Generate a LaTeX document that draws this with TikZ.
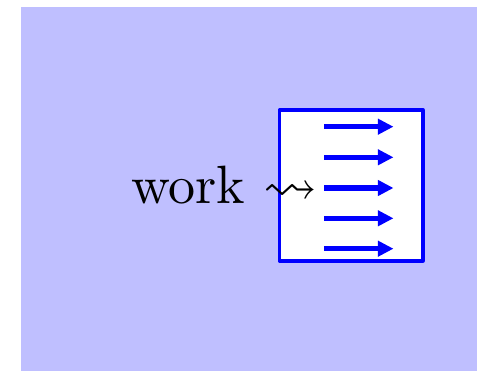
\documentclass[tikz,border=0pt]{standalone}
\usepackage{amssymb}
\usetikzlibrary{arrows.meta}
\tikzset{
  panel/.style={fill=blue!25, draw=none},
  screen/.style={draw=blue, fill=white, line width=0.61pt, line join=round,
    minimum width=26.6pt, minimum height=27.96pt, inner sep=0pt},
  flow/.style={draw=blue, line width=0.98pt,
    -{Triangle[length=2.9pt,width=2.8pt]}},
  label/.style={inner sep=0pt, anchor=base west}
}
\begin{document}
\begin{tikzpicture}[x=0.1852pt, y=-0.1852pt]
  \useasboundingbox (0,0) rectangle (477,371);
  % background panel
  \fill[panel] (21,7) rectangle (477,371);
  % the framed box with the field arrows
  \node[screen] (box) at (351.2,185.5) {};
  \foreach \i/\yy in {1/126.7, 2/157.3, 3/188, 4/218.3, 5/248.7} {
    \coordinate (s\i) at (324.5,\yy);
    \coordinate (e\i) at (393.5,\yy);
    \draw[flow] (s\i) -- (e\i);
  }
  % the caption with its squiggly arrow
  \node[label] (work) at (130,204) {work $\leadsto$};
\end{tikzpicture}
\end{document}
